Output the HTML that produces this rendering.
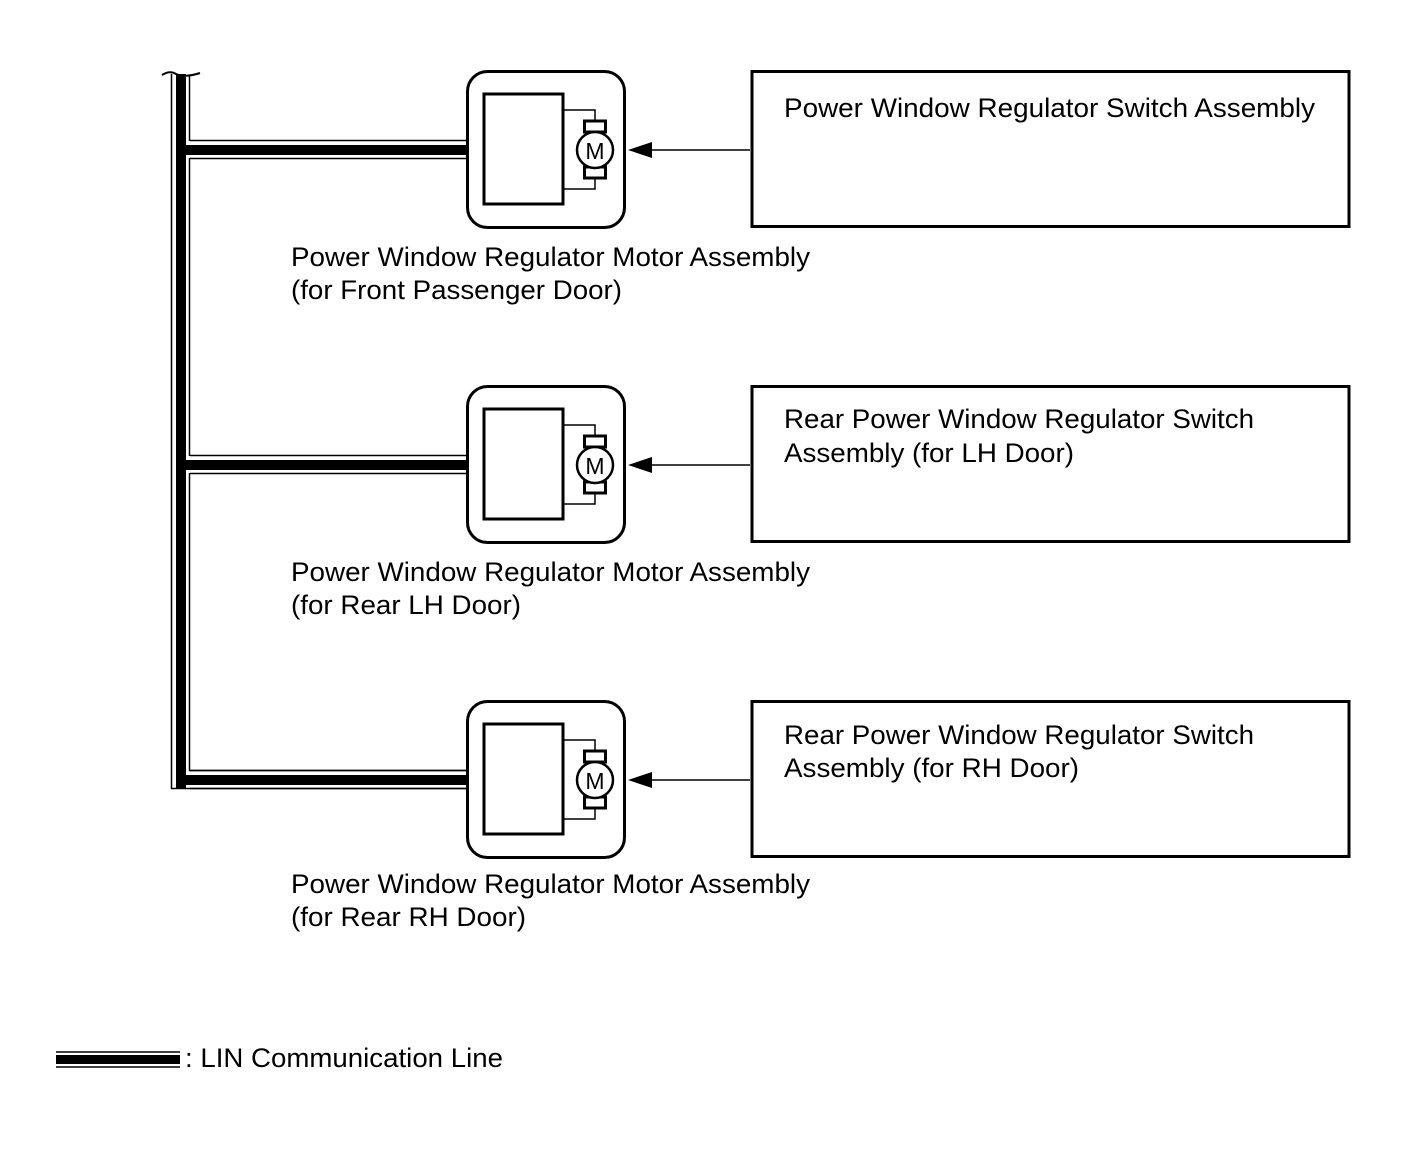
<!DOCTYPE html>
<html><head><meta charset="utf-8"><style>html,body{margin:0;padding:0;background:#fff}svg{display:block}text{font-family:"Liberation Sans",Arial,sans-serif;font-size:27px;fill:#000}</style></head><body>
<svg width="1424" height="1160" viewBox="0 0 1424 1160" xmlns="http://www.w3.org/2000/svg">
<defs>
<g id="motor">
<rect x="467.5" y="71.5" width="157" height="156" rx="20" fill="#fff" stroke="#000" stroke-width="3"/>
<rect x="484" y="94" width="79" height="110" fill="none" stroke="#000" stroke-width="3"/>
<polyline points="563,110 595,110 595,122" fill="none" stroke="#000" stroke-width="1.5"/>
<polyline points="563,189 595,189 595,177" fill="none" stroke="#000" stroke-width="1.5"/>
<rect x="584.5" y="121" width="21" height="11" fill="#fff" stroke="#000" stroke-width="3"/>
<rect x="584.5" y="167" width="21" height="11" fill="#fff" stroke="#000" stroke-width="3"/>
<circle cx="595" cy="150" r="18" fill="#fff" stroke="#000" stroke-width="2.5"/>
<text x="595" y="159" text-anchor="middle" style="font-size:23px">M</text>
<line x1="750" y1="150" x2="650" y2="150" stroke="#000" stroke-width="1.5"/>
<polygon points="628,150 652,142 652,158" fill="#000"/>
<rect x="752" y="71.5" width="597" height="155" fill="none" stroke="#000" stroke-width="3"/>
<line x1="190" y1="140.5" x2="467" y2="140.5" stroke="#000" stroke-width="1.5"/>
<rect x="176" y="145" width="292" height="10" fill="#000"/>
<line x1="190" y1="158.5" x2="467" y2="158.5" stroke="#000" stroke-width="1.5"/>
</g>
</defs>
<use href="#motor"/>
<use href="#motor" y="315"/>
<use href="#motor" y="630"/>
<rect x="176" y="74" width="10" height="715" fill="#000"/>
<line x1="171.5" y1="74" x2="171.5" y2="789" stroke="#000" stroke-width="1.5"/>
<line x1="171" y1="788.5" x2="467" y2="788.5" stroke="#000" stroke-width="1.5"/>
<line x1="189.5" y1="76" x2="189.5" y2="141" stroke="#000" stroke-width="1.5"/>
<line x1="189.5" y1="158" x2="189.5" y2="456" stroke="#000" stroke-width="1.5"/>
<line x1="189.5" y1="473" x2="189.5" y2="771" stroke="#000" stroke-width="1.5"/>
<line x1="189" y1="770.5" x2="467" y2="770.5" stroke="#000" stroke-width="1.5"/>
<rect x="176" y="775" width="292" height="10" fill="#000"/>
<path d="M162,75 Q170,70 176,74 Q185,78 200,73" fill="none" stroke="#000" stroke-width="2"/>
<text x="291" y="266" textLength="519" lengthAdjust="spacingAndGlyphs">Power Window Regulator Motor Assembly</text>
<text x="291" y="299" textLength="331" lengthAdjust="spacingAndGlyphs">(for Front Passenger Door)</text>
<text x="291" y="581" textLength="519" lengthAdjust="spacingAndGlyphs">Power Window Regulator Motor Assembly</text>
<text x="291" y="614" textLength="230" lengthAdjust="spacingAndGlyphs">(for Rear LH Door)</text>
<text x="291" y="893" textLength="519" lengthAdjust="spacingAndGlyphs">Power Window Regulator Motor Assembly</text>
<text x="291" y="926" textLength="235" lengthAdjust="spacingAndGlyphs">(for Rear RH Door)</text>
<text x="784" y="117" textLength="531" lengthAdjust="spacingAndGlyphs">Power Window Regulator Switch Assembly</text>
<text x="784" y="428" textLength="470" lengthAdjust="spacingAndGlyphs">Rear Power Window Regulator Switch</text>
<text x="784" y="462" textLength="290" lengthAdjust="spacingAndGlyphs">Assembly (for LH Door)</text>
<text x="784" y="744" textLength="470" lengthAdjust="spacingAndGlyphs">Rear Power Window Regulator Switch</text>
<text x="784" y="777" textLength="295" lengthAdjust="spacingAndGlyphs">Assembly (for RH Door)</text>
<line x1="56" y1="1052" x2="180" y2="1052" stroke="#000" stroke-width="1.5"/>
<rect x="56" y="1055" width="124" height="9" fill="#000"/>
<line x1="56" y1="1067" x2="180" y2="1067" stroke="#000" stroke-width="1.5"/>
<text x="185" y="1067" textLength="318" lengthAdjust="spacingAndGlyphs">: LIN Communication Line</text>
</svg>
</body></html>
